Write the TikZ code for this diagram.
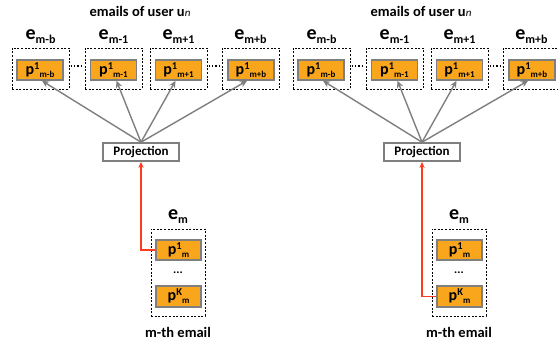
\documentclass[tikz,border=0pt]{standalone}
\usepackage{fontspec}
\setmainfont{Carlito}
\usetikzlibrary{arrows.meta,calc}
\definecolor{orng}{HTML}{F9A61C}
\definecolor{bgray}{HTML}{7F7F7F}
\definecolor{redarr}{HTML}{FF3B1F}
\tikzset{
  dbox/.style={draw=black, line width=0.8pt, dash pattern=on 2pt off 1.6pt, minimum width=57pt, minimum height=41pt, inner sep=0pt},
  dboxm/.style={dbox, minimum width=54pt, minimum height=87pt},
  obox/.style={draw=bgray, fill=orng, line width=1.6pt, minimum width=46pt, minimum height=20pt, inner sep=0pt, font=\fontsize{16}{16}\selectfont\bfseries},
  projbox/.style={draw=bgray, fill=white, line width=1.6pt, minimum width=76pt, minimum height=18pt, inner sep=0pt, font=\fontsize{13}{13}\selectfont\bfseries},
  garrow/.style={draw=bgray, line width=1.4pt, -{Stealth[length=7pt,width=6.5pt]}},
  rarrow/.style={draw=redarr, line width=1.2pt, -{Stealth[length=6pt,width=5pt]}},
  elbl/.style={inner sep=0pt, font=\fontsize{20}{20}\selectfont\bfseries},
  ttl/.style={inner sep=0pt, font=\fontsize{14.5}{14.5}\selectfont\bfseries},
  dotsc/.style={draw=black, line width=1.2pt, dash pattern=on 1.2pt off 2pt},
}
\newcommand\pbx[2]{p{\fontsize{10.5}{10.5}\selectfont\raisebox{5pt}{#1}}{\fontsize{9}{9}\selectfont\raisebox{-3pt}{#2}}}
\newcommand\ebx[1]{e{\fontsize{12}{12}\selectfont\raisebox{-4pt}{#1}}}
\newcommand\drawpanel[3]{%
\begin{scope}[xshift=#2pt]
  \node[ttl] (#1title) at (140,11) {emails of user u{\fontsize{11}{11}\selectfont\mdseries\itshape n}};
  \node[dbox] (#1d1) at (40.5,68.5) {};
  \node[dbox] (#1d2) at (113.5,68.5) {};
  \node[dbox] (#1d3) at (178.5,68.5) {};
  \node[dbox] (#1d4) at (250.5,68.5) {};
  \node[elbl] (#1e1) at (40.5,37) {\ebx{m-b}};
  \node[elbl] (#1e2) at (113.5,37) {\ebx{m-1}};
  \node[elbl] (#1e3) at (178.5,37) {\ebx{m+1}};
  \node[elbl] (#1e4) at (250.5,37) {\ebx{m+b}};
  \node[obox] (#1o1) at (40,70) {\pbx{1}{m-b}};
  \node[obox] (#1o2) at (113.5,70) {\pbx{1}{m-1}};
  \node[obox] (#1o3) at (178.5,70) {\pbx{1}{m+1}};
  \node[obox] (#1o4) at (251,70) {\pbx{1}{m+b}};
  \draw[dotsc] ($(#1d1.east)+(1.5,-2.5)$) -- ($(#1d2.west)+(-1.5,-2.5)$);
  \draw[dotsc] ($(#1d3.east)+(1.5,-2.5)$) -- ($(#1d4.west)+(-1.5,-2.5)$);
  \node[projbox] (#1proj) at (141,152) {Projection};
  \draw[garrow] (#1proj.north) -- ($(#1o1.south)+(2,0)$);
  \draw[garrow] (#1proj.north) -- ($(#1o2.south)+(3,0)$);
  \draw[garrow] (#1proj.north) -- ($(#1o3.south)+(-3,0)$);
  \draw[garrow] (#1proj.north) -- ($(#1o4.south)+(-4,0)$);
  \node[elbl] (#1em) at (178,217) {\ebx{m}};
  \node[dboxm] (#1dm) at (178,272.5) {};
  \node[obox, minimum width=45pt] (#1p1) at (178.5,250) {\pbx{1}{m}};
  \node[inner sep=0pt, font=\fontsize{12}{12}\selectfont\bfseries] (#1dots) at (178,273) {...};
  \node[obox, minimum width=45pt, minimum height=21pt] (#1pK) at (178.5,296.5) {\pbx{K}{m}};
  \node[ttl] (#1cap) at (178,332) {m-th email};
  \draw[rarrow] (#1#3.west) -| (#1proj.south);
\end{scope}}
\begin{document}
\begin{tikzpicture}[x=1pt,y=-1pt]
  \useasboundingbox[fill=white] (0,0) rectangle (558,341);
  \drawpanel{L}{0}{p1}
  \drawpanel{R}{281}{pK}
\end{tikzpicture}
\end{document}
